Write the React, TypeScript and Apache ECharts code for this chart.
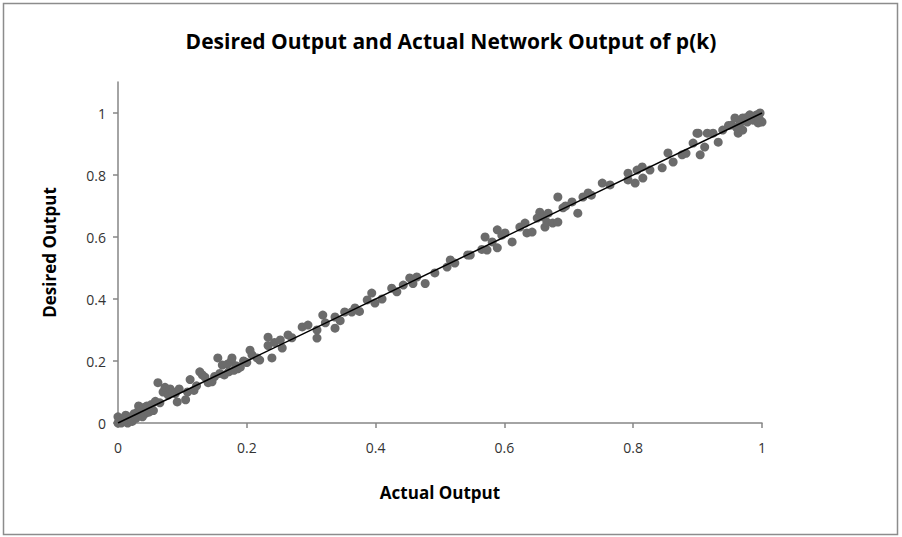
import React, { useEffect, useRef } from "react";
import * as echarts from "echarts";

const chartTitle = "Desired Output and Actual Network Output of p(k)";
const xAxisName = "Actual Output";
const yAxisName = "Desired Output";
const tickValues = [0, 0.2, 0.4, 0.6, 0.8, 1];

const actualOutput = [
  0.0, 0.0, 0.002, 0.005, 0.008, 0.01, 0.012, 0.015, 0.018, 0.02, 0.022, 0.025, 0.028, 0.03, 0.032, 0.035, 0.038, 0.04, 0.042, 0.045, 0.048, 0.05,
  0.052, 0.055, 0.058, 0.062, 0.065, 0.07, 0.073, 0.078, 0.081, 0.085, 0.089, 0.092, 0.095,
  0.105, 0.108, 0.112, 0.118, 0.122, 0.127, 0.131, 0.135, 0.14, 0.146, 0.15, 0.155, 0.158, 0.162, 0.165, 0.17, 0.172, 0.176, 0.18, 0.183, 0.186, 0.19, 0.195,
  0.177, 0.2, 0.205, 0.208, 0.216, 0.22, 0.233, 0.233, 0.239, 0.243, 0.252, 0.255, 0.264, 0.27, 0.286, 0.295, 0.309, 0.309, 0.318, 0.322, 0.337, 0.337, 0.345, 0.352, 0.363,
  0.368, 0.375, 0.387, 0.394, 0.399, 0.41, 0.425, 0.433, 0.443, 0.453, 0.458, 0.464, 0.477, 0.492, 0.511, 0.516, 0.523, 0.547,
  0.543, 0.565, 0.57, 0.573, 0.581, 0.589, 0.589, 0.596, 0.601, 0.612, 0.624, 0.632, 0.635, 0.643, 0.651, 0.655, 0.66, 0.663, 0.666, 0.668, 0.675, 0.683, 0.683, 0.691, 0.695, 0.705, 0.714, 0.722, 0.73,
  0.735, 0.752, 0.764, 0.792, 0.792, 0.803, 0.806, 0.814, 0.815, 0.826, 0.845, 0.854, 0.862, 0.876, 0.882, 0.893, 0.901, 0.904,
  0.899, 0.911, 0.915, 0.924, 0.932, 0.939, 0.953, 0.958, 0.963, 0.966, 0.97, 0.977, 0.981, 0.986, 0.992, 0.997, 1.0, 0.994, 0.97, 0.961, 0.948, 0.975, 0.988, 0.996
];

const desiredOutput = [
  0.0, 0.02, 0.01, 0.0, 0.015, 0.005, 0.025, 0.0, 0.012, 0.02, 0.005, 0.03, 0.015, 0.035, 0.055, 0.04, 0.02, 0.05, 0.03, 0.055, 0.035, 0.045,
  0.06, 0.04, 0.07, 0.13, 0.065, 0.1, 0.115, 0.09, 0.11, 0.1, 0.095, 0.068, 0.11,
  0.075, 0.1, 0.14, 0.105, 0.12, 0.165, 0.155, 0.148, 0.13, 0.133, 0.15, 0.21, 0.16, 0.187, 0.155, 0.19, 0.165, 0.2, 0.17, 0.185, 0.175, 0.18, 0.2,
  0.21, 0.195, 0.235, 0.22, 0.21, 0.203, 0.277, 0.25, 0.21, 0.26, 0.268, 0.242, 0.284, 0.275, 0.31, 0.316, 0.274, 0.3, 0.348, 0.323, 0.342, 0.306, 0.33, 0.358, 0.358,
  0.371, 0.36, 0.397, 0.419, 0.387, 0.4, 0.435, 0.423, 0.445, 0.468, 0.45, 0.471, 0.45, 0.484, 0.503, 0.526, 0.516, 0.542,
  0.542, 0.56, 0.6, 0.558, 0.584, 0.623, 0.565, 0.606, 0.613, 0.584, 0.632, 0.645, 0.613, 0.616, 0.661, 0.68, 0.665, 0.632, 0.648, 0.677, 0.645, 0.648, 0.729, 0.694, 0.7, 0.713, 0.677, 0.729, 0.742,
  0.735, 0.774, 0.768, 0.806, 0.784, 0.774, 0.816, 0.826, 0.79, 0.816, 0.823, 0.871, 0.842, 0.865, 0.87, 0.903, 0.935, 0.865,
  0.935, 0.89, 0.935, 0.935, 0.906, 0.945, 0.961, 0.984, 0.935, 0.968, 0.984, 0.971, 0.994, 0.977, 0.994, 1.0, 0.971, 0.968, 0.945, 0.952, 0.96, 0.985, 0.99, 0.98
];

const fitLine = [
  [0, 0],
  [1, 1]
];

export default function App() {
  const ref = useRef<HTMLDivElement>(null);

  useEffect(() => {
    document.body.style.margin = "0";
    if (!ref.current) return;
    const chart = echarts.init(ref.current, null, { renderer: "svg" });
    const points = actualOutput.map((x, i) => [x, desiredOutput[i]]);
    chart.setOption({
      animation: false,
      backgroundColor: "#ffffff",
      title: {
        text: chartTitle,
        left: "center",
        top: 25,
        textStyle: {
          fontFamily: "Open Sans",
          fontWeight: "bold",
          fontSize: 21,
          color: "#000000"
        }
      },
      graphic: [
        {
          type: "rect",
          shape: { x: 3.5, y: 3.5, width: 894, height: 531 },
          style: { fill: "none", stroke: "#8c8c8c", lineWidth: 1.5 },
          silent: true
        }
      ],
      grid: { left: 118, right: 140, top: 82, bottom: 114 },
      xAxis: {
        type: "value",
        min: 0,
        max: 1,
        interval: 0.2,
        name: xAxisName,
        nameLocation: "middle",
        nameGap: 61,
        nameTextStyle: { fontFamily: "Open Sans", fontWeight: "bold", fontSize: 17, color: "#000" },
        axisLine: { show: true, lineStyle: { color: "#868686", width: 1.5 } },
        axisTick: { show: true, length: 5, lineStyle: { color: "#868686", width: 1.5 } },
        axisLabel: { margin: 17, fontFamily: "Open Sans", fontSize: 14, color: "#333" },
        splitLine: { show: false }
      },
      yAxis: {
        type: "value",
        min: 0,
        max: 1.1,
        interval: 0.2,
        name: yAxisName,
        nameLocation: "middle",
        nameGap: 60,
        nameRotate: 90,
        nameTextStyle: { fontFamily: "Open Sans", fontWeight: "bold", fontSize: 17, color: "#000" },
        axisLine: { show: true, lineStyle: { color: "#868686", width: 1.5 } },
        axisTick: { show: true, length: 5, customValues: tickValues, lineStyle: { color: "#868686", width: 1.5 } },
        axisLabel: { margin: 12, customValues: tickValues, fontFamily: "Open Sans", fontSize: 14, color: "#333" },
        splitLine: { show: false }
      },
      series: [
        {
          type: "scatter",
          data: points,
          symbol: "circle",
          symbolSize: 9,
          itemStyle: { color: "#6b6b6b", opacity: 1 },
          z: 2
        },
        {
          type: "line",
          data: fitLine,
          showSymbol: false,
          symbol: "none",
          lineStyle: { color: "#000000", width: 1.5 },
          z: 3
        }
      ]
    });
    return () => chart.dispose();
  }, []);

  return <div ref={ref} style={{ width: 902, height: 537 }} />;
}
